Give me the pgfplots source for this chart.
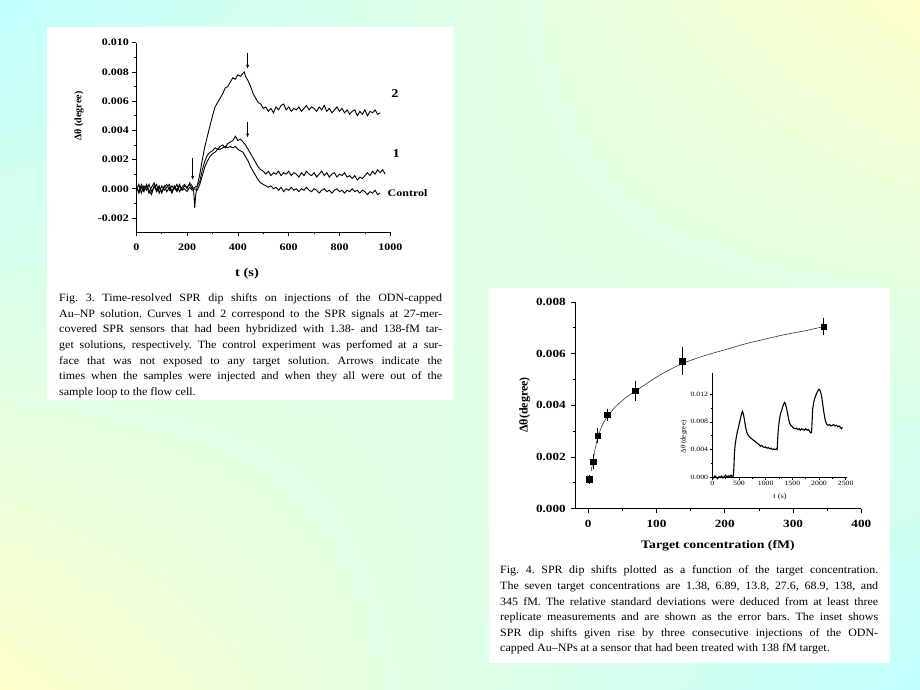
\documentclass[border=0pt]{standalone}
\usepackage{pgfplots}
\pgfplotsset{compat=1.18}
\usetikzlibrary{arrows.meta,shadings}
\usepackage{fontspec}
\setmainfont{Liberation Serif}
\newfontfamily\wideA[FakeStretch=1.2]{Liberation Serif}
\newfontfamily\capfont[FakeStretch=1.07]{Liberation Serif}
\newfontfamily\insfont[FakeStretch=1.2]{Liberation Serif}
\definecolor{bgcyan}{RGB}{192,255,255}
\definecolor{bgyellow}{RGB}{255,255,204}
\frenchspacing
\newcommand{\capL}[2]{\node[anchor=base west,inner sep=0pt,font=\capfont\fontsize{11.2}{12}\selectfont] at (59pt,#1pt) {\makebox[383pt][s]{#2}};}
\newcommand{\capLlast}[2]{\node[anchor=base west,inner sep=0pt,font=\capfont\fontsize{11.2}{12}\selectfont] at (59pt,#1pt) {#2};}
\newcommand{\capR}[2]{\node[anchor=base west,inner sep=0pt,font=\capfont\fontsize{11.2}{12}\selectfont] at (500pt,#1pt) {\makebox[378pt][s]{#2}};}
\newcommand{\capRlast}[2]{\node[anchor=base west,inner sep=0pt,font=\capfont\fontsize{11.2}{12}\selectfont] at (500pt,#1pt) {#2};}
\begin{document}
\begin{tikzpicture}
\shade[upper left=bgcyan, upper right=bgyellow, lower left=bgyellow, lower right=bgcyan] (0pt,0pt) rectangle (920pt,690pt);
\fill[white] (47pt,290pt) rectangle (453pt,663pt);
\fill[white] (489pt,27pt) rectangle (890pt,402pt);

% ---------------- Left chart (Fig. 3) ----------------
\begin{axis}[at={(136.3pt,458pt)}, anchor=south west, scale only axis,
  width=254pt, height=189.3pt,
  xmin=0, xmax=1000, ymin=-2.96, ymax=10,
  axis lines=left, axis line style={-, line width=0.9pt},
  tick align=outside, major tick length=4pt, minor tick length=2.5pt,
  every tick/.style={black, line width=0.8pt},
  xtick={0,200,400,600,800,1000}, xticklabels={0,200,400,600,800,1000}, minor x tick num=1,
  ytick={-2,0,2,4,6,8,10}, yticklabels={-0.002,0.000,0.002,0.004,0.006,0.008,0.010}, minor y tick num=1,
  ticklabel style={font=\wideA\bfseries\fontsize{10}{11}\selectfont},
  xticklabel style={yshift=-4pt},
  clip=false]
\addplot[black, line width=0.9pt] coordinates {
(0,0.1)(10,-0.2)(20,0.3)(30,-0.1)(40,0.2)(50,-0.3)(60,0.1)(70,0.4)(80,-0.1)(90,0.2)
(100,-0.2)(110,0.1)(120,0.3)(130,-0.1)(140,0.2)(150,0.0)(160,0.3)(170,-0.2)(180,0.1)(190,0.3)
(200,0.0)(210,0.4)(220,0.2)(226,-0.2)(230,-1.3)(234,-0.4)(240,0.2)(250,1.0)(260,2.0)(270,2.9)
(280,3.6)(290,4.3)(300,5.0)(310,5.6)(320,5.9)(330,6.2)(340,6.5)(350,6.9)(360,7.0)(370,7.3)
(380,7.6)(390,7.5)(400,7.8)(410,7.7)(420,7.9)(425,8.0)(430,7.7)(440,7.4)(450,7.0)(460,6.5)
(470,6.2)(480,5.9)(490,5.8)(500,5.5)(510,5.6)(520,5.3)(530,5.5)(540,5.2)(550,5.6)(560,5.4)
(570,5.7)(580,5.8)(590,5.4)(600,5.6)(610,5.3)(620,5.5)(630,5.4)(640,5.6)(650,5.3)(660,5.5)
(670,5.7)(680,5.4)(690,5.6)(700,5.5)(710,5.3)(720,5.6)(730,5.4)(740,5.7)(750,5.3)(760,5.5)
(770,5.2)(780,5.4)(790,5.6)(800,5.3)(810,5.5)(820,5.2)(830,5.4)(840,5.1)(850,5.3)(860,5.4)
(870,5.0)(880,5.3)(890,5.1)(900,5.4)(910,5.0)(920,5.3)(930,5.2)(940,5.4)(950,5.1)(960,5.2)};
\addplot[black, line width=0.9pt] coordinates {
(0,-0.1)(10,0.3)(20,-0.3)(30,0.2)(40,-0.1)(50,0.3)(60,-0.2)(70,0.1)(80,0.3)(90,-0.3)
(100,0.2)(110,-0.1)(120,0.1)(130,0.3)(140,-0.2)(150,0.2)(160,-0.1)(170,0.3)(180,-0.1)(190,0.2)
(200,0.1)(210,0.3)(220,0.0)(230,0.1)(240,0.2)(250,0.5)(260,1.3)(270,1.9)(280,2.3)(290,2.5)
(300,2.6)(310,2.8)(320,2.7)(330,2.9)(340,3.0)(350,2.8)(360,3.1)(370,3.2)(380,3.3)(390,3.6)
(400,3.3)(410,3.4)(420,3.2)(430,3.0)(440,2.7)(450,2.4)(460,2.1)(470,1.8)(480,1.5)(490,1.3)
(500,1.2)(510,1.0)(520,1.2)(530,0.9)(540,1.1)(550,1.0)(560,1.2)(570,0.9)(580,1.1)(590,1.0)
(600,1.2)(610,0.9)(620,1.1)(630,1.0)(640,0.8)(650,1.1)(660,0.9)(670,1.2)(680,1.0)(690,0.9)
(700,1.1)(710,0.8)(720,1.0)(730,1.2)(740,0.9)(750,1.1)(760,0.8)(770,1.0)(780,1.1)(790,0.8)
(800,1.0)(810,0.9)(820,1.1)(830,0.8)(840,0.9)(850,0.7)(860,0.9)(870,0.6)(880,0.8)(890,0.7)
(900,0.9)(910,1.1)(920,0.9)(930,1.2)(940,1.0)(950,1.3)(960,1.1)(970,1.3)(980,1.0)};
\addplot[black, line width=0.9pt] coordinates {
(0,0.2)(10,-0.3)(20,0.1)(30,-0.2)(40,0.3)(50,-0.1)(60,-0.4)(70,0.2)(80,-0.2)(90,0.1)
(100,-0.3)(110,0.2)(120,-0.2)(130,0.1)(140,-0.3)(150,0.1)(160,-0.2)(170,0.2)(180,-0.1)(190,0.0)
(200,-0.2)(210,0.1)(220,-0.1)(230,0.0)(240,-0.1)(250,0.3)(260,0.9)(270,1.5)(280,1.9)(290,2.2)
(300,2.4)(310,2.5)(320,2.7)(330,2.7)(340,2.8)(350,2.9)(360,2.8)(370,2.9)(380,2.8)(390,2.9)
(400,2.7)(410,2.6)(420,2.5)(430,2.2)(440,1.9)(450,1.5)(460,1.2)(470,0.9)(480,0.6)(490,0.4)
(500,0.3)(510,0.2)(520,0.1)(530,0.2)(540,0.0)(550,0.1)(560,-0.1)(570,0.1)(580,-0.2)(590,0.0)
(600,-0.1)(610,0.1)(620,-0.1)(630,0.0)(640,-0.2)(650,0.0)(660,-0.1)(670,0.1)(680,-0.1)(690,-0.2)
(700,0.0)(710,-0.1)(720,-0.3)(730,-0.1)(740,0.0)(750,-0.2)(760,-0.1)(770,-0.3)(780,-0.1)(790,0.0)
(800,-0.2)(810,-0.1)(820,-0.3)(830,-0.1)(840,-0.2)(850,0.0)(860,-0.2)(870,-0.1)(880,-0.3)(890,-0.1)
(900,-0.2)(910,-0.4)(920,-0.2)(930,-0.3)(940,-0.1)(950,-0.4)(960,-0.3)};
\draw[-{Latex[length=4pt,width=3pt]}, line width=0.7pt] (axis cs:222,2.1) -- (axis cs:222,0.6);
\draw[-{Latex[length=4pt,width=3pt]}, line width=0.7pt] (axis cs:438,9.3) -- (axis cs:438,8.2);
\draw[-{Latex[length=4pt,width=3pt]}, line width=0.7pt] (axis cs:438,4.6) -- (axis cs:438,3.5);
\node[anchor=west, font=\wideA\bfseries\fontsize{12}{13}\selectfont] at (axis cs:990,6.5) {2};
\node[anchor=west, font=\wideA\bfseries\fontsize{12}{13}\selectfont] at (axis cs:995,2.4) {1};
\node[anchor=west, inner sep=1pt, font=\wideA\bfseries\fontsize{10}{11}\selectfont] at (axis cs:985,-0.3) {Control};
\end{axis}
\node[rotate=90, font=\bfseries\fontsize{10}{11}\selectfont] at (79pt,574pt) {Δθ (degree)};
\node[font=\wideA\bfseries\fontsize{12}{13}\selectfont] at (247pt,416pt) {t (s)};

\capL{388.5}{Fig. 3. Time-resolved SPR dip shifts on injections of the ODN-capped}
\capL{372.8}{Au–NP solution. Curves 1 and 2 correspond to the SPR signals at 27-mer-}
\capL{357.1}{covered SPR sensors that had been hybridized with 1.38- and 138-fM tar-}
\capL{341.4}{get solutions, respectively. The control experiment was perfomed at a sur-}
\capL{325.7}{face that was not exposed to any target solution. Arrows indicate the}
\capL{310.0}{times when the samples were injected and when they all were out of the}
\capLlast{294.3}{sample loop to the flow cell.}

% ---------------- Right chart (Fig. 4) ----------------
\begin{axis}[at={(575.3pt,181.3pt)}, anchor=south west, scale only axis,
  width=286pt, height=206.7pt,
  xmin=-19, xmax=400, ymin=0, ymax=8,
  axis lines=left, axis line style={-, line width=0.9pt},
  tick align=outside, major tick length=4pt, minor tick length=2.5pt,
  every tick/.style={black, line width=0.8pt},
  xtick={0,100,200,300,400}, xticklabels={0,100,200,300,400}, minor x tick num=1,
  ytick={0,2,4,6,8}, yticklabels={0.000,0.002,0.004,0.006,0.008}, minor y tick num=1,
  ticklabel style={font=\wideA\bfseries\fontsize{11}{12}\selectfont},
  xticklabel style={yshift=-4pt}, yticklabel style={xshift=-2pt},
  clip=false]
\addplot[black!80, line width=0.6pt, smooth] coordinates {
(4,1.45)(6.89,1.85)(10,2.3)(13.8,2.75)(20,3.2)(27.6,3.55)(40,3.95)(55,4.3)(68.9,4.55)
(90,4.92)(110,5.25)(138,5.62)(170,5.92)(200,6.15)(230,6.38)(260,6.57)(290,6.75)(320,6.9)(345,7.05)};
\addplot[black, only marks, mark=square*, mark size=2.8pt,
  error bars/.cd, y dir=both, y explicit,
  error bar style={line width=0.8pt}, error mark options={mark size=3pt, line width=0.8pt}]
coordinates {
(1.38,1.14) +- (0,0.05)
(6.89,1.82) +- (0,0.18)
(13.8,2.83) +- (0,0.17)
(27.6,3.64) +- (0,0.12)
(68.9,4.57) +- (0,0.27)
(138,5.72) +- (0,0.44)
(345,7.05) +- (0,0.23)};
\end{axis}
\node[rotate=90, font=\bfseries\fontsize{12}{13}\selectfont] at (524.7pt,285pt) {Δθ(degree)};
\node[font=\wideA\bfseries\fontsize{11.5}{12}\selectfont] at (718pt,144pt) {Target concentration (fM)};

% inset
\begin{axis}[at={(712.3pt,212.7pt)}, anchor=south west, scale only axis,
  width=135pt, height=104pt,
  xmin=0, xmax=2530, ymin=0, ymax=15,
  axis lines=left, axis line style={-, line width=0.6pt},
  tick align=outside, major tick length=2.5pt, minor tick length=1.5pt,
  every tick/.style={black, line width=0.5pt},
  xtick={0,500,1000,1500,2000,2500}, xticklabels={0,500,1000,1500,2000,2500}, minor x tick num=1,
  ytick={0,4,8,12}, yticklabels={0.000,0.004,0.008,0.012}, minor y tick num=1,
  ticklabel style={font=\insfont\fontsize{6.5}{7}\selectfont, inner sep=1.5pt},
  clip=false]
\addplot[black, line width=1.1pt] coordinates {
(0,0.1)(25,-0.1)(50,0.2)(75,0.0)(100,-0.2)(125,0.1)(150,0.0)(175,0.2)(200,-0.1)(225,0.1)
(250,0.3)(275,0.0)(300,0.2)(325,0.1)(350,0.3)(375,0.1)(395,0.2)(405,1.5)(415,3.5)(430,4.8)
(450,5.8)(470,6.6)(490,7.2)(510,7.9)(530,8.6)(550,9.2)(565,9.5)(580,9.2)(600,8.4)(620,7.4)
(640,6.7)(660,6.2)(680,6.0)(700,5.8)(725,5.6)(750,5.5)(775,5.3)(800,5.2)(825,5.0)(850,4.9)
(875,4.7)(900,4.5)(925,4.6)(950,4.4)(975,4.3)(1000,4.4)(1025,4.2)(1050,4.3)(1075,4.1)(1100,4.2)
(1125,4.0)(1150,4.1)(1175,4.0)(1200,4.1)(1215,4.0)(1225,5.5)(1240,7.2)(1260,8.4)(1280,9.2)(1300,9.7)
(1320,10.2)(1340,10.6)(1355,10.8)(1370,10.6)(1390,10.0)(1410,9.2)(1430,8.4)(1450,7.8)(1470,7.5)(1500,7.3)
(1525,7.1)(1550,7.0)(1575,7.1)(1600,6.9)(1625,7.0)(1650,6.8)(1675,7.0)(1700,6.9)(1725,6.8)(1750,7.0)
(1775,6.8)(1800,6.9)(1825,6.6)(1845,6.4)(1860,6.5)(1870,8.0)(1880,9.8)(1900,10.8)(1920,11.4)(1940,11.8)
(1960,12.2)(1980,12.5)(2000,12.7)(2015,12.6)(2030,12.3)(2050,11.6)(2070,10.5)(2090,9.4)(2110,8.5)(2130,7.9)
(2150,7.6)(2175,7.5)(2200,7.6)(2225,7.4)(2250,7.5)(2275,7.6)(2300,7.4)(2325,7.5)(2350,7.3)(2375,7.4)
(2400,7.2)(2420,7.0)(2440,7.2)};
\end{axis}
\node[rotate=90, font=\fontsize{7}{8}\selectfont] at (684pt,253pt) {Δθ (degree)};
\node[font=\insfont\fontsize{7}{8}\selectfont] at (780pt,193pt) {t (s)};

\capR{116}{Fig. 4. SPR dip shifts plotted as a function of the target concentration.}
\capR{100.4}{The seven target concentrations are 1.38, 6.89, 13.8, 27.6, 68.9, 138, and}
\capR{84.8}{345 fM. The relative standard deviations were deduced from at least three}
\capR{69.2}{replicate measurements and are shown as the error bars. The inset shows}
\capR{53.6}{SPR dip shifts given rise by three consecutive injections of the ODN-}
\capRlast{38}{capped Au–NPs at a sensor that had been treated with 138 fM target.}
\end{tikzpicture}
\end{document}
